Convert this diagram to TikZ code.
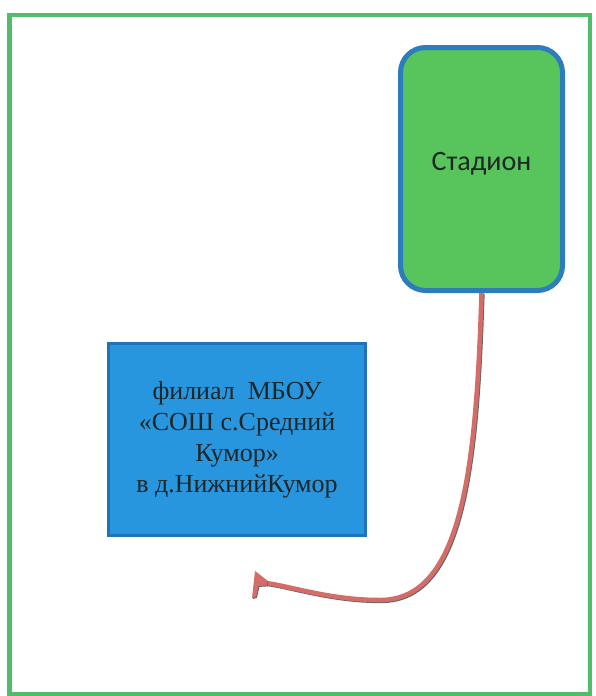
\documentclass[tikz,border=0pt]{standalone}
\usepackage{fontspec}
\setmainfont{Liberation Serif}
\newfontfamily\stadfont{Carlito}
\usepackage{tikz}

\definecolor{framegreen}{RGB}{80,190,105}
\definecolor{fieldgreen}{RGB}{88,196,92}
\definecolor{fieldblue}{RGB}{45,125,190}
\definecolor{schoolblue}{RGB}{40,150,222}
\definecolor{schooledge}{RGB}{30,115,185}
\definecolor{roadred}{RGB}{212,108,104}
\definecolor{inkgray}{RGB}{30,38,38}

\begin{document}
\begin{tikzpicture}
          [x=1pt,y=-1pt,
           stadium/.style={rectangle,rounded corners=25pt,draw=fieldblue,line width=5pt,
             fill=fieldgreen,minimum width=162pt,minimum height=243pt,text=inkgray,
             font=\stadfont\fontsize{28}{32}\selectfont,text depth=15pt},
           school/.style={rectangle,draw=schooledge,line width=3pt,fill=schoolblue,
             minimum width=257pt,minimum height=192pt,text=inkgray,align=center,
             font=\fontsize{26}{31}\selectfont},
           road/.style={draw=roadred,line width=4.5pt,
             preaction={draw=black!60,line width=4.5pt,
               transform canvas={shift={(0.9pt,-0.9pt)}}}},
           barb/.style={fill=roadred,
             preaction={fill=black!60,transform canvas={shift={(0.9pt,-0.9pt)}}}}]
          \useasboundingbox (0,0) rectangle (595,696);
          % outer frame
          \draw[framegreen,line width=4.5pt] (9.5,15) rectangle (590,694);

          \node[stadium] (stadion) at (481.5,169) {Стадион};
          \node[school] (school) at (237,439.5)
            {филиал\ \ МБОУ\\«СОШ с.Средний\\Кумор»\\в д.НижнийКумор};

          \coordinate (tip) at (255,571);
          \draw[road] (stadion.south) .. controls (476,470) and (462,600) .. (380,600)
            .. controls (330,600) and (290,586) .. (266,583);
          \fill[barb] (tip) -- (252,598) -- (256,597) -- (258.5,586)
            -- (267,585.5) -- (267,580.5) -- cycle;

        \end{tikzpicture}
\end{document}
